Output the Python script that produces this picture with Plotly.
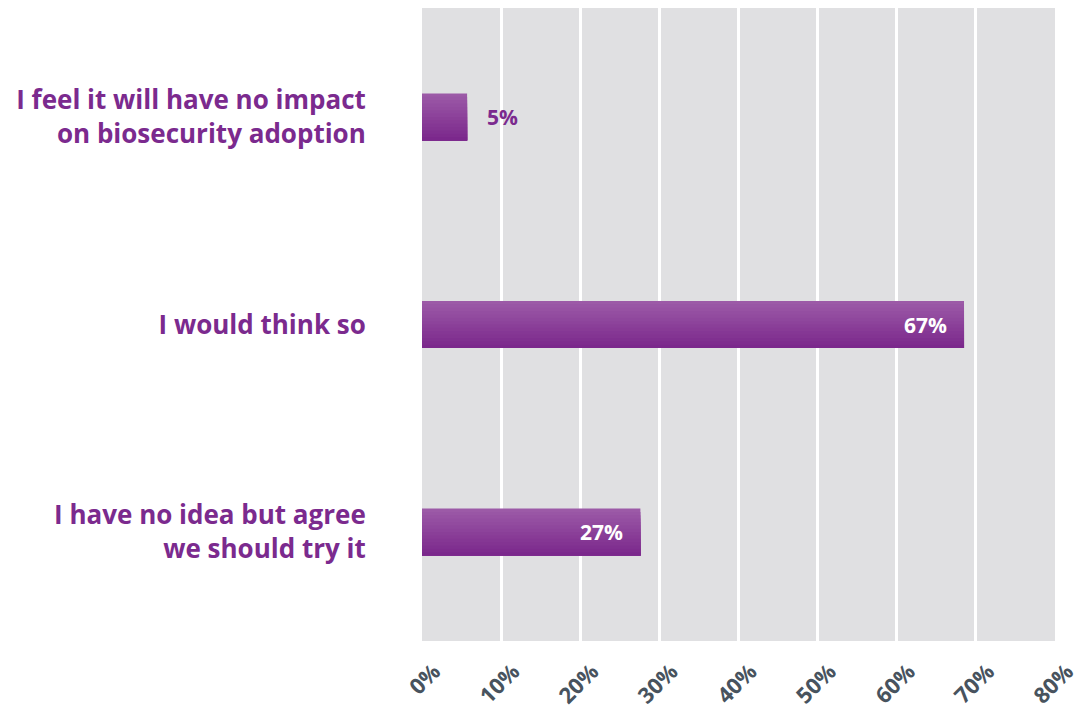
import plotly.graph_objects as go

categories = ["I feel it will have no impact<br>on biosecurity adoption",
              "I would think so",
              "I have no idea but agree<br>we should try it"]
values = [5.7, 68.5, 27.6]
value_labels = ["5%", "67%", "27%"]
tick_vals = [0, 10, 20, 30, 40, 50, 60, 70, 80]
tick_text = ["0%", "10%", "20%", "30%", "40%", "50%", "60%", "70%", "80%"]

PURPLE = "#7b2a8e"
TOP = (156, 90, 167)
BOT = (123, 40, 140)
BAR_W = 0.2265
N = 14
FONT = "Open Sans"

fig = go.Figure()
for i in range(N):
    t = i / (N - 1)
    c = tuple(round(TOP[k] + (BOT[k] - TOP[k]) * t) for k in range(3))
    off = -BAR_W / 2 + BAR_W * i / N
    fig.add_trace(go.Bar(
        x=values, y=categories, orientation="h",
        width=BAR_W / 2 - off, offset=off,
        marker=dict(color="rgb(%d,%d,%d)" % c, line=dict(width=0)),
        hoverinfo="skip", showlegend=False,
    ))

for cat, v, lab in zip(categories, values, value_labels):
    outside = v < 10
    fig.add_annotation(
        x=v, y=cat, text="<b>%s</b>" % lab, showarrow=False,
        xanchor="left" if outside else "right",
        xshift=18 if outside else -15,
        font=dict(family=FONT, size=21, color=PURPLE if outside else "white"),
    )

fig.update_layout(
    width=1078, height=701,
    barmode="overlay",
    paper_bgcolor="white", plot_bgcolor="#e0e0e2",
    margin=dict(l=414, r=31, t=0, b=68, autoexpand=False),
    font=dict(family=FONT),
    xaxis=dict(range=[0, 80], tickvals=tick_vals,
               ticktext=["<b>%s</b>" % t for t in tick_text],
               tickangle=-45, showgrid=True, gridcolor="white", gridwidth=3,
               zeroline=False, showline=False,
               tickfont=dict(family=FONT, size=22, color="#48535e"),
               ticklabelshift=12,
               ticks="outside", ticklen=8, tickcolor="rgba(0,0,0,0)"),
    yaxis=dict(range=[2.525, -0.525], showgrid=False, zeroline=False,
               tickvals=categories,
               ticktext=["<b>%s</b>" % c for c in categories],
               tickfont=dict(family=FONT, size=26, color=PURPLE),
               ticks="outside", ticklen=50, tickcolor="rgba(0,0,0,0)"),
)

fig.write_html("out.html")
